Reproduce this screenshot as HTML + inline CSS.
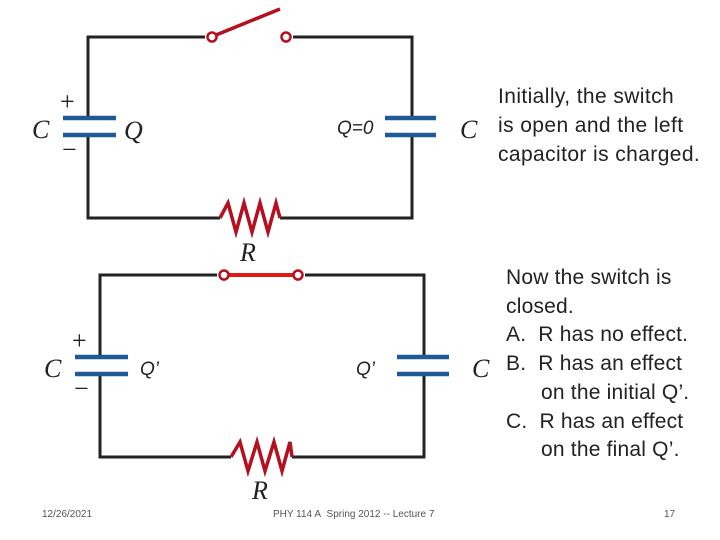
<!DOCTYPE html>
<html><head><style>
body{margin:0;width:720px;height:540px;background:#fff;overflow:hidden;position:relative;font-family:"Liberation Sans",sans-serif}
.t{position:absolute;font-size:21px;letter-spacing:0.4px;color:#222;line-height:29px}
.i{display:inline-block;margin-left:35px}
.f{position:absolute;font-size:10px;color:#555;top:509px}
</style></head><body>
<svg width="720" height="540" style="position:absolute;left:0;top:0">
<g fill="none" stroke="#222" stroke-width="3">
<polyline points="205,37 88,37 88,118"/><polyline points="88,135 88,218 220,218"/>
<polyline points="293,37 412,37 412,118"/><polyline points="412,135 412,218 280,218"/>
<polyline points="217,275 100,275 100,357"/><polyline points="100,374 100,457 231,457"/>
<polyline points="305,275 424,275 424,357"/><polyline points="424,374 424,457 292,457"/>
</g>
<g stroke="#1f5a96" stroke-width="4.5">
<line x1="63" y1="118" x2="116" y2="118"/><line x1="63" y1="135" x2="116" y2="135"/>
<line x1="385" y1="118" x2="436" y2="118"/><line x1="385" y1="135" x2="436" y2="135"/>
<line x1="75" y1="357" x2="128" y2="357"/><line x1="75" y1="374" x2="128" y2="374"/>
<line x1="397" y1="357" x2="449" y2="357"/><line x1="397" y1="374" x2="449" y2="374"/>
</g>
<g fill="none" stroke="#b5101f" stroke-width="3.5">
<polyline points="220,218 228,203 236,232 244,203 252,232 260,203 268,232 276,203 280,218"/>
<polyline points="231,457 240,442 248,471 257,442 265,471 274,442 282,471 290,442 292,457"/>
<line x1="216" y1="35" x2="280" y2="9"/>
<circle cx="212" cy="37" r="4.5" fill="#fff" stroke-width="2.5"/>
<circle cx="286" cy="37" r="4.5" fill="#fff" stroke-width="2.5"/>
<line x1="224" y1="275" x2="298" y2="275" stroke="#e01818" stroke-width="4"/>
<circle cx="224" cy="275" r="4.5" fill="#fff" stroke-width="2.5"/>
<circle cx="298" cy="275" r="4.5" fill="#fff" stroke-width="2.5"/>
</g>
<g font-family="Liberation Serif,serif" font-style="italic" font-size="26" fill="#222">
<text x="32" y="138">C</text><text x="124" y="139">Q</text><text x="460" y="138">C</text>
<text x="240" y="261">R</text>
<text x="44" y="377">C</text><text x="472" y="377">C</text>
<text x="252" y="499">R</text>
</g>
<g font-family="Liberation Serif,serif" font-size="26" fill="#222">
<text x="60" y="110">+</text><text x="62" y="158">−</text>
<text x="72" y="349">+</text><text x="74" y="397">−</text>
</g>
<g font-family="Liberation Sans,sans-serif" font-style="italic" font-size="19" fill="#222">
<text x="337" y="134">Q=0</text>
<text x="140" y="375">Q’</text><text x="356" y="375">Q’</text>
</g>
</svg>
<div class="t" style="left:498px;top:82px">Initially, the switch<br>is open and the left<br>capacitor is charged.</div>
<div class="t" style="left:506px;top:264px;line-height:28.7px;letter-spacing:0.2px">Now the switch is<br>closed.<br>A.&nbsp; R has no effect.<br>B.&nbsp; R has an effect<br><span class="i">on the initial Q’.</span><br>C.&nbsp; R has an effect<br><span class="i">on the final Q’.</span></div>
<div class="f" style="left:42px">12/26/2021</div>
<div class="f" style="left:273px">PHY 114 A&nbsp; Spring 2012 -- Lecture 7</div>
<div class="f" style="left:664px">17</div>
</body></html>
